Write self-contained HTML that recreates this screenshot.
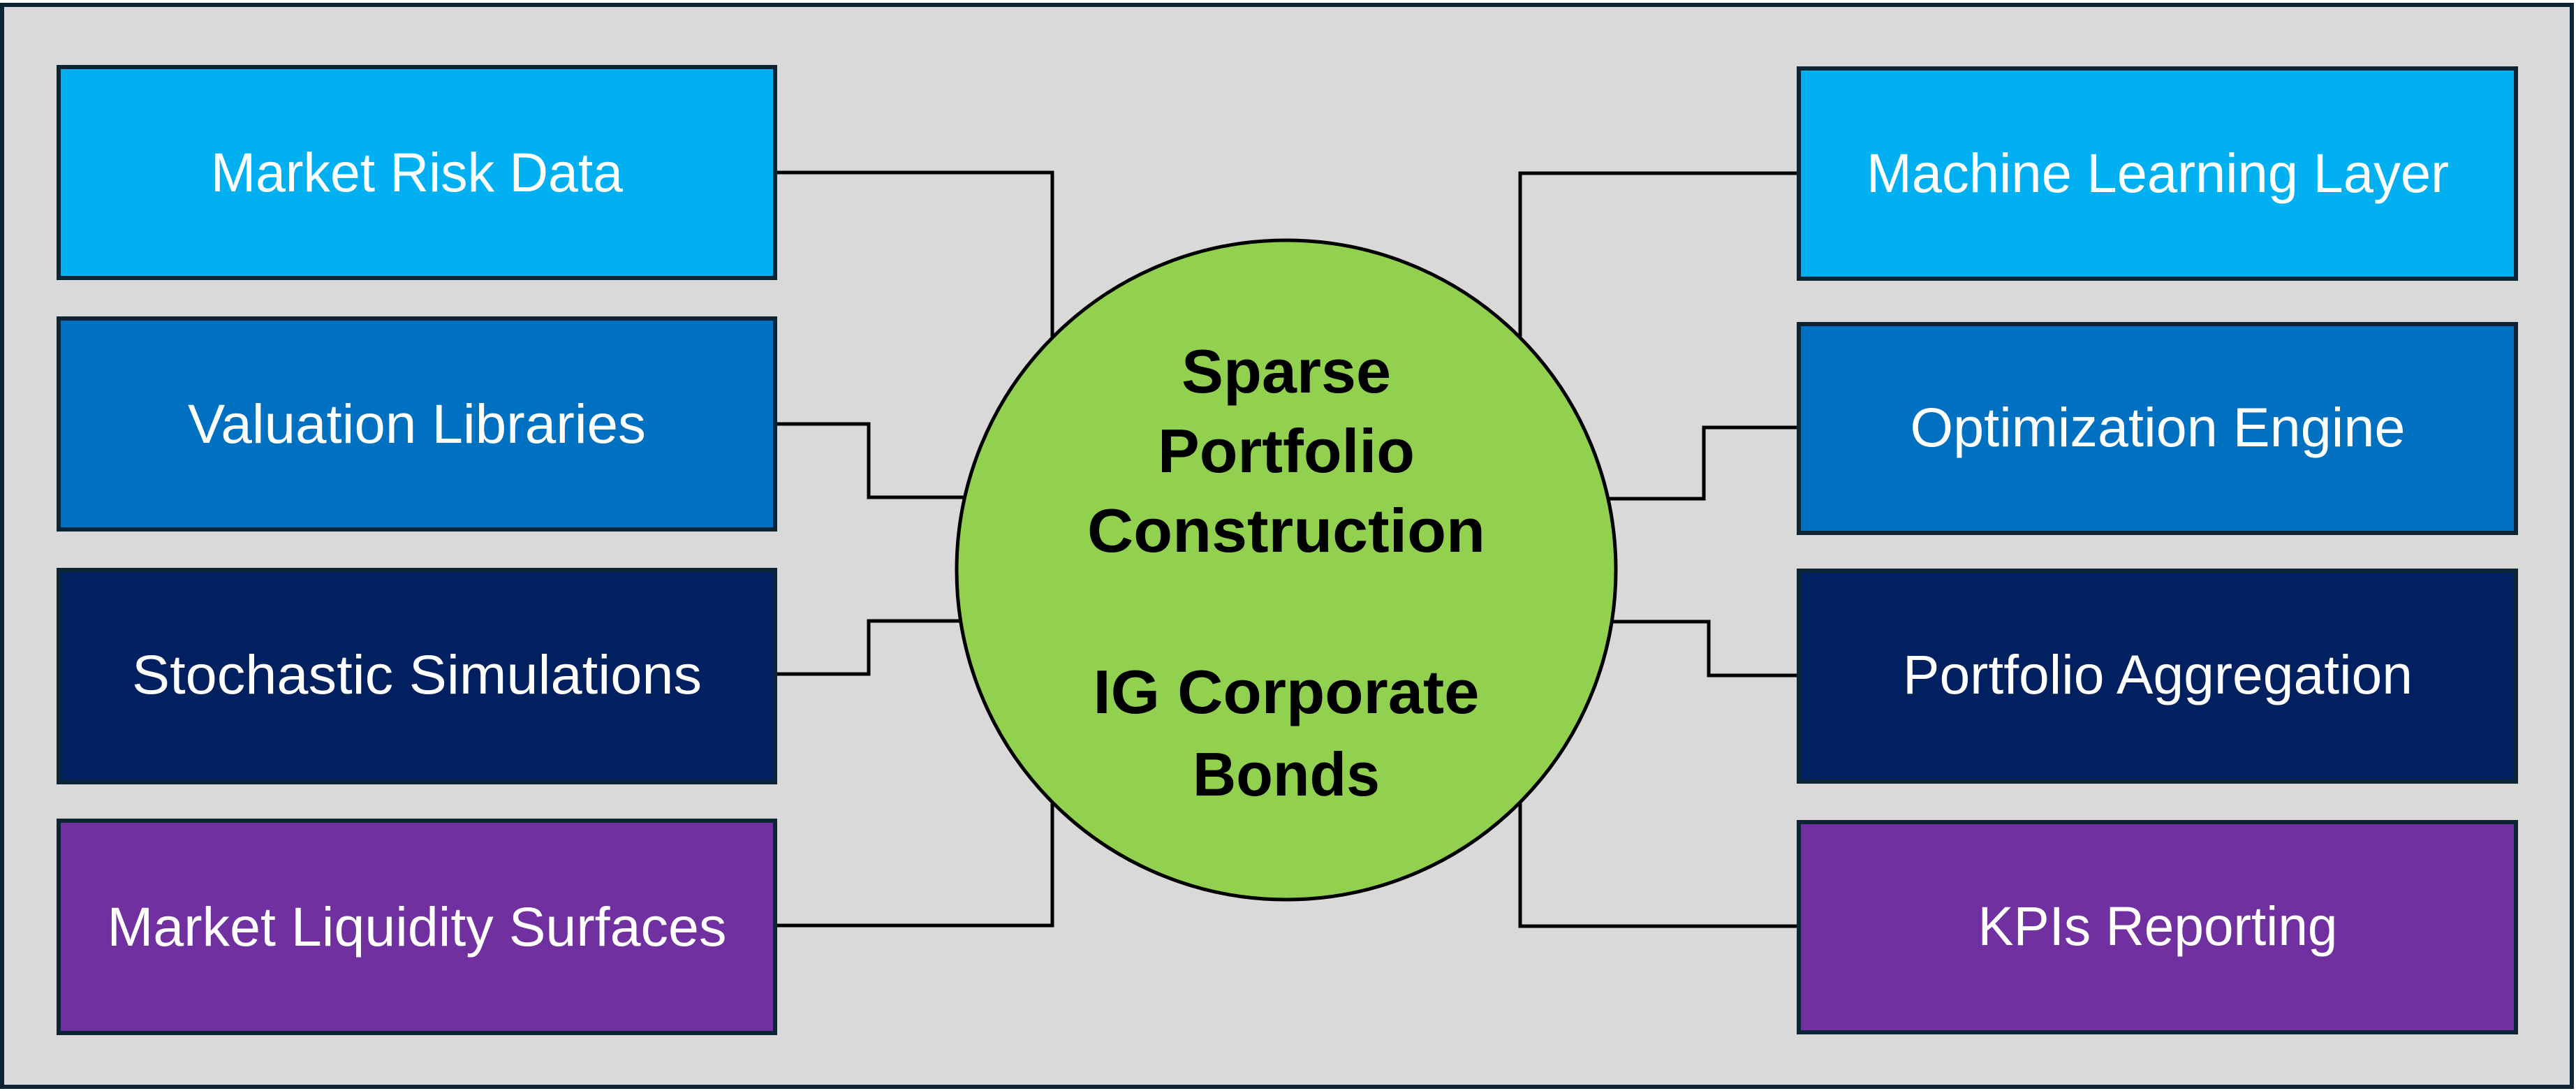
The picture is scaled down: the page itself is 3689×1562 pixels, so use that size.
<!DOCTYPE html>
<html><head><meta charset="utf-8"><style>html,body{margin:0;padding:0;background:#fff}svg{display:block}</style></head>
<body>
<svg width="3689" height="1562" viewBox="0 0 3689 1562" xmlns="http://www.w3.org/2000/svg">
<rect x="3" y="7" width="3680" height="1549" fill="#d9d9d9" stroke="#0b2535" stroke-width="6"/>
<g fill="none" stroke="#000" stroke-width="5">
<polyline points="1110,247 1507,247 1507,482"/>
<polyline points="1110,607 1244,607 1244,712 1380,712"/>
<polyline points="1110,965 1244,965 1244,889 1376,889"/>
<polyline points="1110,1325 1507,1325 1507,1150"/>
<polyline points="2576,248 2177,248 2177,482"/>
<polyline points="2576,612 2440,612 2440,714 2305,714"/>
<polyline points="2576,967 2447,967 2447,890 2310,890"/>
<polyline points="2576,1326 2177,1326 2177,1150"/>
</g>
<circle cx="1842" cy="816" r="472" fill="#92d050" stroke="#000" stroke-width="5"/>
<g stroke="#0b2535" stroke-width="6">
<rect x="84" y="96" width="1026" height="302" fill="#00b0f0"/>
<rect x="84" y="456" width="1026" height="302" fill="#0070c0"/>
<rect x="84" y="816" width="1026" height="304" fill="#002060"/>
<rect x="84" y="1175" width="1026" height="304" fill="#7030a0"/>
<rect x="2576" y="98" width="1027" height="301" fill="#00b0f0"/>
<rect x="2576" y="464" width="1027" height="299" fill="#0070c0"/>
<rect x="2576" y="817" width="1027" height="302" fill="#002060"/>
<rect x="2576" y="1177" width="1027" height="301" fill="#7030a0"/>
</g>
<g fill="#fff" font-family="Liberation Sans, sans-serif" font-size="79" text-anchor="middle">
<text x="597" y="274" textLength="590" lengthAdjust="spacingAndGlyphs">Market Risk Data</text>
<text x="597" y="634" textLength="656" lengthAdjust="spacingAndGlyphs">Valuation Libraries</text>
<text x="597" y="993" textLength="816" lengthAdjust="spacingAndGlyphs">Stochastic Simulations</text>
<text x="597" y="1354" textLength="887" lengthAdjust="spacingAndGlyphs">Market Liquidity Surfaces</text>
<text x="3090" y="275" textLength="834" lengthAdjust="spacingAndGlyphs">Machine Learning Layer</text>
<text x="3090" y="639" textLength="709" lengthAdjust="spacingAndGlyphs">Optimization Engine</text>
<text x="3090" y="993" textLength="730" lengthAdjust="spacingAndGlyphs">Portfolio Aggregation</text>
<text x="3090" y="1353" textLength="515" lengthAdjust="spacingAndGlyphs">KPIs Reporting</text>
</g>
<g fill="#000" font-family="Liberation Sans, sans-serif" font-weight="bold" font-size="88" text-anchor="middle">
<text x="1842" y="562" textLength="300" lengthAdjust="spacingAndGlyphs">Sparse</text>
<text x="1842" y="676" textLength="368" lengthAdjust="spacingAndGlyphs">Portfolio</text>
<text x="1842" y="790" textLength="570" lengthAdjust="spacingAndGlyphs">Construction</text>
<text x="1842" y="1021" textLength="553" lengthAdjust="spacingAndGlyphs">IG Corporate</text>
<text x="1842" y="1139" textLength="268" lengthAdjust="spacingAndGlyphs">Bonds</text>
</g>
</svg>
</body></html>
